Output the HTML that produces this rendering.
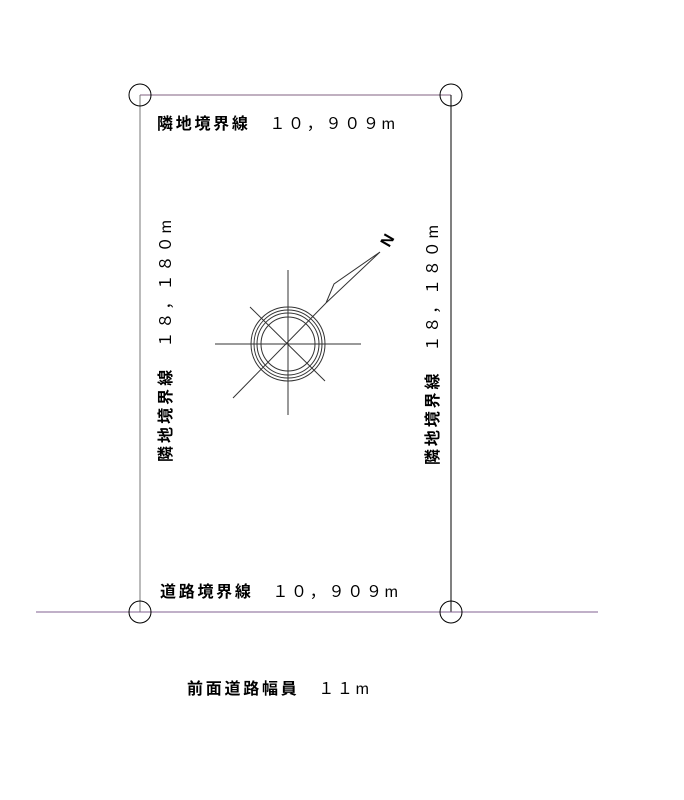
<!DOCTYPE html>
<html><head><meta charset="utf-8"><style>
html,body{margin:0;padding:0;background:#fff;}
svg{display:block;}
text{font-family:"Liberation Sans","Noto Sans CJK JP",sans-serif;font-size:16px;fill:#000;}
.b{font-weight:bold;}
</style></head><body>
<svg width="684" height="800" viewBox="0 0 684 800" xmlns="http://www.w3.org/2000/svg">
<g fill="none" stroke="#000" stroke-width="1">
<line x1="140" y1="95" x2="451" y2="95" stroke="#806080"/>
<line x1="140" y1="95" x2="140" y2="612" stroke="#777"/>
<line x1="451" y1="95" x2="451" y2="612"/>
<line x1="36" y1="612" x2="598" y2="612" stroke="#806090"/>
<circle cx="140" cy="95" r="11"/>
<circle cx="451" cy="95" r="11"/>
<circle cx="140" cy="612" r="11"/>
<circle cx="451" cy="612" r="11"/>
<g stroke="#333">
<circle cx="288" cy="344" r="37"/>
<circle cx="288" cy="344" r="34"/>
<circle cx="288" cy="344" r="31"/>
<circle cx="288" cy="344" r="27"/>
<line x1="215" y1="344" x2="361" y2="344"/>
<line x1="288" y1="270" x2="288" y2="415"/>
<line x1="250" y1="307" x2="325" y2="381"/>
<line x1="233" y1="398" x2="326" y2="303"/>
<polyline points="326,303 334,284 380,252 326,303"/>
</g>
</g>
<text x="392" y="243" font-weight="bold" font-size="13" transform="rotate(-60 392 243)" text-anchor="middle">N</text>
<text x="157" y="129" textLength="238" lengthAdjust="spacing"><tspan class="b">隣地境界線</tspan>　１０，９０９m</text>
<text x="160" y="597" textLength="238" lengthAdjust="spacing"><tspan class="b">道路境界線</tspan>　１０，９０９m</text>
<text x="187" y="694" textLength="182" lengthAdjust="spacing"><tspan class="b">前面道路幅員</tspan>　１１m</text>
<text transform="translate(171,462) rotate(-90)" textLength="242" lengthAdjust="spacing"><tspan class="b">隣地境界線</tspan>　１８，１８０m</text>
<text transform="translate(438,465) rotate(-90)" textLength="240" lengthAdjust="spacing"><tspan class="b">隣地境界線</tspan>　１８，１８０m</text>
</svg>
</body></html>
